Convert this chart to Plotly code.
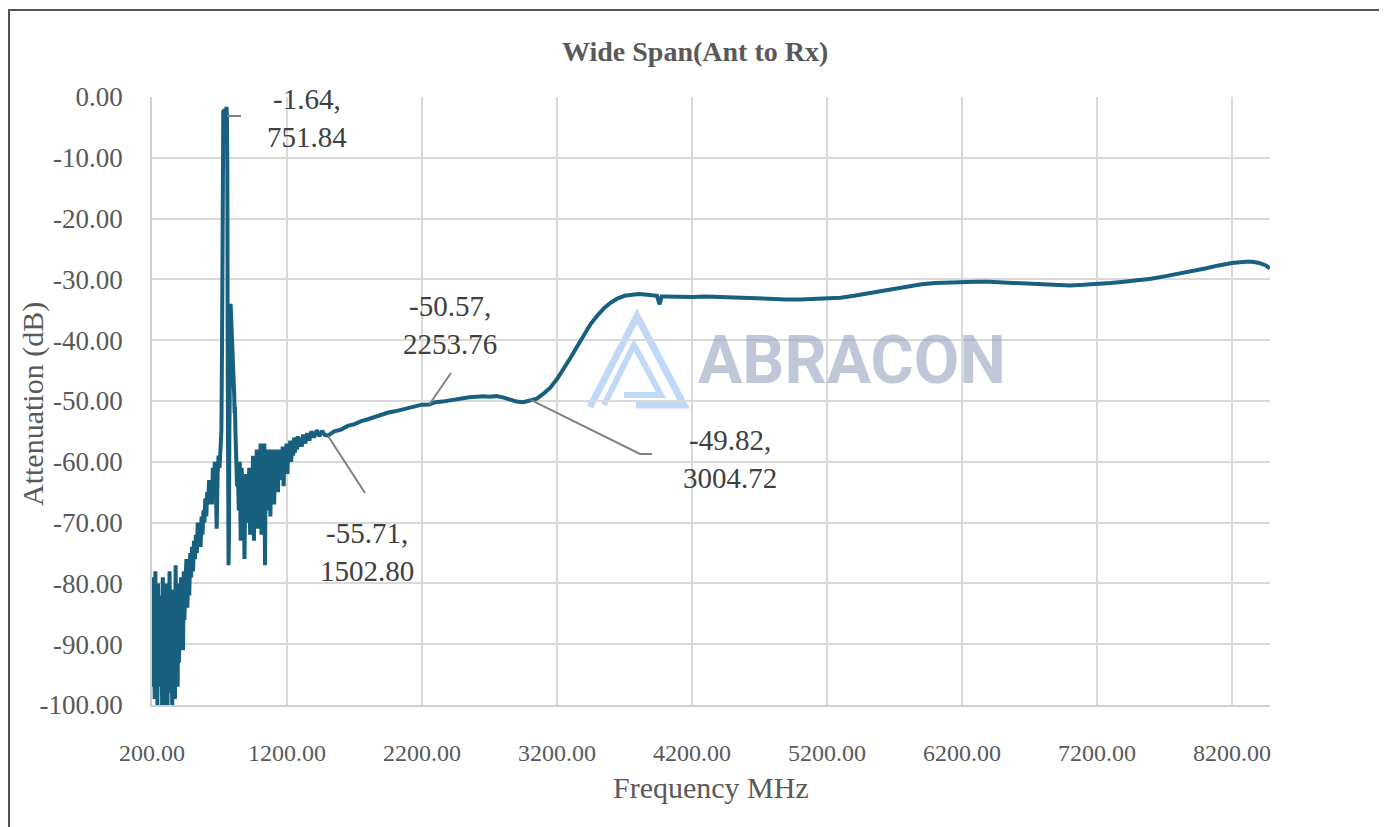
import plotly.graph_objects as go

# ---------------- data ----------------
seg_floor = [  # 200-440 MHz, noisy floor
    (200, -84), (205, -97), (210, -79), (215, -92), (220, -99), (225, -78), (230, -94), (235, -86),
    (240, -100), (245, -80), (250, -90), (255, -97), (260, -82), (265, -95), (270, -88), (275, -100),
    (280, -79), (285, -93), (290, -85), (295, -100), (300, -80), (305, -96), (310, -87), (315, -100),
    (320, -82), (325, -94), (330, -78), (335, -98), (340, -85), (345, -92), (350, -100), (355, -81),
    (360, -95), (365, -88), (370, -99), (375, -77), (380, -91), (385, -84), (390, -97), (395, -80),
    (400, -93), (405, -86), (410, -90), (415, -79), (420, -88), (425, -82), (430, -91), (435, -78),
    (440, -86),
]
seg_rise = [  # 448-714 MHz, rising skirt
    (448, -80), (455, -76), (462, -84), (469, -77), (476, -82), (483, -75), (490, -79), (497, -74),
    (504, -78), (511, -73), (518, -76), (525, -72), (532, -75), (539, -70), (546, -73), (553, -71),
    (560, -74), (567, -69), (574, -72), (581, -68), (588, -70), (595, -66), (602, -69), (609, -65),
    (616, -67), (623, -63), (630, -66), (637, -63), (644, -67), (651, -61), (658, -64), (665, -60),
    (672, -63), (679, -71), (686, -62), (693, -59), (700, -61), (707, -57), (714, -55),
]
seg_peak = [  # passband spike and spurious response
    (719, -40), (722, -15), (725, -3), (728, -2.2), (732, -2.6), (736, -2.0), (740, -3.5),
    (744, -2.4), (748, -1.9), (751.84, -1.64), (755, -2.8), (758, -12), (761, -45), (764, -66),
    (767, -77), (770, -72), (773, -55), (776, -40), (779, -35), (782, -34), (785, -35.5),
    (788, -37), (791, -40), (794, -39), (797, -42), (800, -44), (803, -43), (806, -47),
    (809, -49), (812, -52), (815, -51), (818, -55), (821, -58), (824, -61), (827, -60), (830, -64),
]
seg_ripple = [  # 836-1480 MHz, noisy decay
    (836, -62), (843, -68), (850, -60), (857, -73), (864, -61), (871, -66), (878, -63), (885, -76),
    (892, -62), (899, -70), (906, -63), (913, -68), (920, -61), (927, -72), (934, -62), (941, -69),
    (948, -59), (955, -73), (962, -60), (969, -67), (976, -58), (983, -71), (990, -59), (997, -66),
    (1004, -57), (1011, -72), (1018, -58), (1025, -64), (1032, -57), (1037, -77), (1042, -59),
    (1049, -68), (1056, -58), (1063, -65), (1070, -59), (1077, -69), (1084, -58), (1091, -64),
    (1098, -59), (1105, -67), (1112, -58), (1119, -63), (1126, -59), (1133, -65), (1140, -58),
    (1147, -63), (1154, -58), (1161, -62), (1168, -57.5), (1175, -64), (1182, -58), (1189, -61),
    (1196, -57), (1203, -62), (1210, -57), (1217, -60), (1224, -56.5), (1231, -60), (1238, -56.5),
    (1245, -59), (1252, -56), (1259, -58.5), (1266, -56), (1273, -58), (1280, -55.8), (1290, -57.5),
    (1300, -56), (1310, -57.5), (1320, -55.5), (1335, -57), (1350, -55.3), (1365, -56.5),
    (1380, -55), (1400, -56), (1420, -54.8), (1440, -55.8), (1460, -54.9), (1480, -55.6),
]
seg_smooth = [  # 1502-8480 MHz
    (1502.8, -55.71), (1550, -55.0), (1600, -54.7), (1650, -54.1), (1700, -53.8), (1750, -53.3),
    (1800, -53.0), (1850, -52.6), (1900, -52.3), (1950, -51.9), (2000, -51.7), (2050, -51.4),
    (2100, -51.1), (2150, -50.9), (2200, -50.6), (2253.76, -50.57), (2300, -50.2), (2350, -50.1),
    (2400, -49.9), (2450, -49.7), (2500, -49.6), (2550, -49.4), (2600, -49.3), (2650, -49.2),
    (2700, -49.3), (2750, -49.2), (2800, -49.4), (2850, -49.7), (2900, -50.1), (2950, -50.2),
    (3004.72, -49.82), (3050, -49.6), (3100, -48.8), (3150, -47.8), (3200, -46.4), (3250, -44.7),
    (3300, -42.9), (3350, -41.0), (3400, -39.1), (3450, -37.3), (3500, -35.9), (3550, -34.7),
    (3600, -33.8), (3650, -33.1), (3700, -32.7), (3750, -32.5), (3800, -32.4), (3850, -32.5),
    (3900, -32.6), (3940, -32.7), (3960, -34.1), (3975, -32.8), (4000, -32.8), (4100, -32.9),
    (4200, -32.9), (4300, -32.8), (4400, -32.9), (4500, -33.0), (4600, -33.1), (4700, -33.1),
    (4800, -33.2), (4900, -33.3), (5000, -33.3), (5100, -33.2), (5200, -33.1), (5300, -33.0),
    (5400, -32.7), (5500, -32.3), (5600, -31.9), (5700, -31.5), (5800, -31.1), (5900, -30.8),
    (6000, -30.6), (6100, -30.5), (6200, -30.4), (6300, -30.4), (6400, -30.4), (6500, -30.5),
    (6600, -30.5), (6700, -30.6), (6800, -30.7), (6900, -30.9), (7000, -31.0), (7100, -30.9),
    (7200, -30.8), (7300, -30.6), (7400, -30.4), (7500, -30.2), (7600, -29.9), (7700, -29.5),
    (7800, -29.1), (7900, -28.7), (8000, -28.2), (8100, -27.7), (8200, -27.3), (8300, -27.1),
    (8350, -27.1), (8400, -27.3), (8450, -27.7), (8480, -28.2),
]

# marker annotations: (frequency MHz, attenuation dB)
markers = [(751.84, -1.64), (1502.80, -55.71), (2253.76, -50.57), (3004.72, -49.82)]

x_ticks = [200, 1200, 2200, 3200, 4200, 5200, 6200, 7200, 8200]
y_ticks = [0, -10, -20, -30, -40, -50, -60, -70, -80, -90, -100]
x_range = [200, 8481]
y_range = [-100, 0]

title_text = "Wide Span(Ant to Rx)"
x_title = "Frequency MHz"
y_title = "Attenuation (dB)"

# ---------------- figure ----------------
points = seg_floor + seg_rise + seg_peak + seg_ripple + seg_smooth
freq = [p[0] for p in points]
att = [p[1] for p in points]

OFF = 8                                   # browser body margin
W, H = 1387, 827
L, R, T, B = 152, 1270, 97, 705          # plot area in page pixels
pw, ph = R - L, B - T

def px(x):
    return (x - L) / pw

def py(y):
    return (B - y) / ph

def dx(p):   # page pixel -> data x
    return x_range[0] + (p - L) / pw * (x_range[1] - x_range[0])

def dy(p):   # page pixel -> data y
    return y_range[1] - (p - T) / ph * (y_range[1] - y_range[0])

LINE = "#17607f"
TXT = "#595959"
SERIF = "Liberation Serif, Times New Roman, serif"

fig = go.Figure()
fig.add_trace(go.Scatter(x=freq, y=att, mode="lines",
                         line=dict(color=LINE, width=4), hoverinfo="skip",
                         showlegend=False))

shapes = []
annotations = []

# outer chart border
shapes.append(dict(type="rect", xref="paper", yref="paper",
                   x0=px(9), x1=px(1383), y0=py(10), y1=py(840),
                   line=dict(color="#555555", width=2), layer="below"))

# watermark logo (light blue)
logo_col = "rgba(150,192,242,0.6)"
shapes.append(dict(type="path", xref="paper", yref="paper",
                   path=f"M {px(590)},{py(407)} L {px(637)},{py(316)} L {px(684)},{py(405)} L {px(636)},{py(405)}",
                   line=dict(color=logo_col, width=7), layer="below"))
shapes.append(dict(type="path", xref="paper", yref="paper",
                   path=f"M {px(604)},{py(405)} L {px(634)},{py(345)} L {px(661)},{py(395)} L {px(624)},{py(395)}",
                   line=dict(color=logo_col, width=6), layer="below"))

annotations.append(dict(text="ABRACON", xref="paper", yref="paper", x=px(852), y=py(360),
                        xanchor="center", yanchor="middle", showarrow=False,
                        font=dict(family="Roboto, Arial, sans-serif", size=66, color="rgba(150,162,192,0.6)",
                                  weight="bold")))

# leader lines for markers (page pixel positions of label ends)
leader_ends = [[(241, 116)], [(365, 493)], [(451, 373)], [(640, 454), (652, 454)]]
leader_start_px = [(227, 116), None, None, None]
label_centers = [(307, 118), (367, 552), (450, 325), (730, 459)]
for (mf, ma), ends, st, lc in zip(markers, leader_ends, leader_start_px, label_centers):
    if st is None:
        pts = [(mf, ma)] + [(dx(a), dy(b)) for a, b in ends]
    else:
        pts = [(dx(st[0]), dy(st[1]))] + [(dx(a), dy(b)) for a, b in ends]
    path = "M " + " L ".join(f"{a},{b}" for a, b in pts)
    shapes.append(dict(type="path", xref="x", yref="y", path=path,
                       line=dict(color="#808080", width=2)))
    annotations.append(dict(text=f"{ma:.2f},<br>{mf:.2f}", xref="x", yref="y",
                            x=dx(lc[0]), y=dy(lc[1]), xanchor="center", yanchor="middle",
                            showarrow=False, align="center",
                            font=dict(family=SERIF, size=29, color="#404040")))

# title and axis titles
annotations.append(dict(text=f"<b>{title_text}</b>", xref="paper", yref="paper",
                        x=px(695), y=py(52), xanchor="center", yanchor="middle", showarrow=False,
                        font=dict(family=SERIF, size=28, color=TXT)))
annotations.append(dict(text=x_title, xref="paper", yref="paper",
                        x=px(711), y=py(787), xanchor="center", yanchor="middle", showarrow=False,
                        font=dict(family=SERIF, size=30, color=TXT)))
annotations.append(dict(text=y_title, xref="paper", yref="paper", textangle=-90,
                        x=px(33), y=py(404), xanchor="center", yanchor="middle", showarrow=False,
                        font=dict(family=SERIF, size=30, color=TXT)))

fig.update_layout(
    width=W - OFF, height=H - OFF,
    margin=dict(l=L - OFF, r=W - R, t=T - OFF, b=H - B, pad=0),
    paper_bgcolor="white", plot_bgcolor="white",
    shapes=shapes, annotations=annotations,
    xaxis=dict(range=x_range, tickvals=x_ticks, ticktext=[f"{v:.2f}" for v in x_ticks],
               showgrid=True, gridcolor="#d9d9d9", gridwidth=1.5, zeroline=False,
               showline=True, linecolor="#d0d0d0", linewidth=1.5,
               ticks="", ticklabelstandoff=25,
               tickfont=dict(family=SERIF, size=24, color=TXT)),
    yaxis=dict(range=y_range, tickvals=y_ticks, ticktext=[f"{v:.2f}" for v in y_ticks],
               showgrid=True, gridcolor="#d9d9d9", gridwidth=1.5, zeroline=False,
               showline=True, linecolor="#d0d0d0", linewidth=1.5,
               ticks="", ticklabelstandoff=22,
               tickfont=dict(family=SERIF, size=27, color=TXT)),
)

fig.write_html("out.html")
